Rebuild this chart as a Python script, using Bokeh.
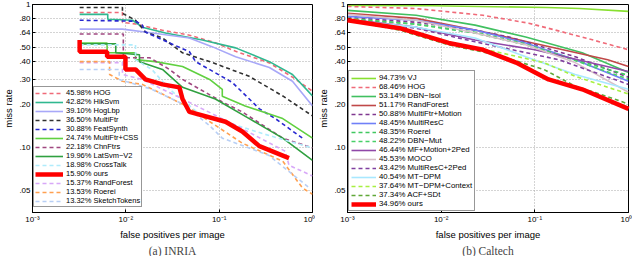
from bokeh.plotting import figure
from bokeh.layouts import row
from bokeh.models import FixedTicker, Legend, LegendItem, Range1d
from bokeh.embed import file_html
from bokeh.resources import INLINE

# ---------------- tick labels ----------------
x_ticks = [0.001, 0.01, 0.1, 1.0]
x_tick_labels = ["10\u207b\u00b3", "10\u207b\u00b2", "10\u207b\u00b9", "10\u2070"]
y_ticks = [0.05, 0.10, 0.20, 0.30, 0.40, 0.50, 0.64, 0.80, 1.0]
y_tick_labels = [".05", ".10", ".20", ".30", ".40", ".50", ".64", ".80", "1"]

# ---------------- INRIA ----------------
inria_labels = ["45.98% HOG", "42.82% HikSvm", "39.10% HogLbp", "36.50% MultiFtr",
                "30.88% FeatSynth", "24.74% MultiFtr+CSS", "22.18% ChnFtrs",
                "19.96% LatSvm\u2212V2", "18.98% CrossTalk", "15.90% ours",
                "15.37% RandForest", "13.53% Roerei", "13.32% SketchTokens"]
inria_colors = ["#f06a78", "#30b890", "#a8a8f8", "#303030", "#2828d0", "#60d040",
                "#a04880", "#30a040", "#b0ecfc", "#ff0000", "#d8a8f8", "#ffa050", "#b8cff5"]
inria_dash = [True, False, False, True, True, False, True, False, True, False, True, True, True]

inria_hog_x = [0.0032, 0.0092, 0.0092, 0.0127, 0.0247, 0.048, 0.091, 0.15, 0.345, 0.61, 1.0]
inria_hog_y = [0.88, 0.88, 0.75, 0.73, 0.66, 0.61, 0.54, 0.47, 0.39, 0.31, 0.247]
inria_hiksvm_x = [0.0032, 0.0064, 0.0064, 0.0118, 0.015, 0.0266, 0.066, 0.15, 0.345, 0.61, 1.0]
inria_hiksvm_y = [0.853, 0.853, 0.788, 0.776, 0.694, 0.631, 0.565, 0.497, 0.398, 0.324, 0.229]
inria_hoglbp_x = [0.0032, 0.0092, 0.0193, 0.048, 0.085, 0.15, 0.345, 0.61, 1.0]
inria_hoglbp_y = [0.672, 0.672, 0.631, 0.583, 0.505, 0.431, 0.362, 0.29, 0.195]
inria_multiftr_x = [0.0032, 0.0092, 0.0092, 0.0127, 0.0162, 0.0247, 0.0405, 0.085, 0.21, 0.48, 1.0]
inria_multiftr_y = [0.953, 0.953, 0.867, 0.776, 0.641, 0.583, 0.459, 0.392, 0.314, 0.229, 0.166]
inria_featsynth_x = [0.0032, 0.0127, 0.015, 0.0162, 0.0294, 0.048, 0.056, 0.138, 0.27, 0.4, 0.78]
inria_featsynth_y = [0.776, 0.764, 0.717, 0.641, 0.538, 0.467, 0.398, 0.285, 0.186, 0.159, 0.116]
inria_css_x = [0.0032, 0.0063, 0.0063, 0.0127, 0.0127, 0.0207, 0.0405, 0.079, 0.108, 0.108, 0.19, 0.48, 1.0]
inria_css_y = [0.538, 0.538, 0.459, 0.459, 0.411, 0.398, 0.368, 0.299, 0.255, 0.228, 0.195, 0.159, 0.116]
inria_chnftrs_x = [0.0032, 0.0094, 0.0094, 0.018, 0.0294, 0.0405, 0.108, 0.177, 0.48, 1.0]
inria_chnftrs_y = [0.621, 0.621, 0.424, 0.424, 0.351, 0.299, 0.208, 0.177, 0.116, 0.099]
inria_latsvm_x = [0.0032, 0.0078, 0.0078, 0.014, 0.014, 0.0247, 0.0405, 0.091, 0.21, 0.48, 1.0]
inria_latsvm_y = [0.53, 0.53, 0.459, 0.445, 0.398, 0.351, 0.263, 0.218, 0.159, 0.116, 0.081]
inria_crosstalk_x = [0.0032, 0.0127, 0.0127, 0.019, 0.0294, 0.061, 0.117, 0.29, 1.0]
inria_crosstalk_y = [0.522, 0.522, 0.411, 0.351, 0.255, 0.172, 0.151, 0.125, 0.099]
inria_ours_x = [0.0032, 0.0032, 0.0063, 0.0063, 0.0099, 0.0099, 0.0127, 0.0162, 0.0247, 0.0375,
                0.0405, 0.048, 0.117, 0.177, 0.27, 0.56]
inria_ours_y = [0.565, 0.467, 0.467, 0.431, 0.431, 0.351, 0.351, 0.299, 0.276, 0.263,
                0.218, 0.177, 0.151, 0.129, 0.102, 0.084]
inria_randforest_x = [0.0032, 0.0092, 0.0092, 0.015, 0.0247, 0.0405, 0.066, 0.177, 0.51, 0.56, 1.0]
inria_randforest_y = [0.392, 0.392, 0.324, 0.299, 0.255, 0.218, 0.186, 0.135, 0.094, 0.075, 0.063]
inria_roerei_x = [0.0032, 0.0067, 0.0067, 0.0092, 0.015, 0.0247, 0.044, 0.085, 0.177, 0.48, 0.78, 1.0]
inria_roerei_y = [0.398, 0.398, 0.324, 0.29, 0.276, 0.236, 0.195, 0.147, 0.107, 0.08, 0.052, 0.047]
inria_sketch_x = [0.0032, 0.0085, 0.0085, 0.019, 0.0405, 0.079, 0.108, 0.34, 0.93]
inria_sketch_y = [0.351, 0.351, 0.299, 0.255, 0.201, 0.142, 0.116, 0.088, 0.052]

inria_xs = [inria_hog_x, inria_hiksvm_x, inria_hoglbp_x, inria_multiftr_x, inria_featsynth_x,
            inria_css_x, inria_chnftrs_x, inria_latsvm_x, inria_crosstalk_x, inria_ours_x,
            inria_randforest_x, inria_roerei_x, inria_sketch_x]
inria_ys = [inria_hog_y, inria_hiksvm_y, inria_hoglbp_y, inria_multiftr_y, inria_featsynth_y,
            inria_css_y, inria_chnftrs_y, inria_latsvm_y, inria_crosstalk_y, inria_ours_y,
            inria_randforest_y, inria_roerei_y, inria_sketch_y]

# ---------------- Caltech ----------------
caltech_labels = ["94.73% VJ", "68.46% HOG", "53.14% DBN\u2212Isol", "51.17% RandForest",
                  "50.88% MultiFtr+Motion", "48.45% MultiResC", "48.35% Roerei",
                  "48.22% DBN\u2212Mut", "46.44% MF+Motion+2Ped", "45.53% MOCO",
                  "43.42% MultiResC+2Ped", "40.54% MT\u2212DPM", "37.64% MT\u2212DPM+Context",
                  "37.34% ACF+SDt", "34.96% ours"]
caltech_colors = ["#88e030", "#f06a78", "#40c060", "#c04848", "#803890", "#7080f8", "#40c860",
                  "#48d068", "#9048a8", "#d8c0c8", "#8040a0", "#a8e8ff", "#a8f040", "#60a838", "#ff0000"]
caltech_dash = [False, True, False, False, True, False, True, True, False, False, True, False, True, True, False]

caltech_vj_x = [0.001, 0.008, 0.134, 0.3, 1.0]
caltech_vj_y = [0.984, 0.98, 0.953, 0.938, 0.895]
caltech_hog_x = [0.001, 0.0053, 0.028, 0.086, 0.32, 1.0]
caltech_hog_y = [0.969, 0.938, 0.84, 0.74, 0.592, 0.482]
caltech_dbnisol_x = [0.001, 0.0054, 0.023, 0.08, 0.32, 1.0]
caltech_dbnisol_y = [0.909, 0.84, 0.717, 0.592, 0.459, 0.334]
caltech_randforest_x = [0.001, 0.0054, 0.023, 0.095, 0.6, 1.0]
caltech_randforest_y = [0.867, 0.8, 0.662, 0.538, 0.411, 0.368]
caltech_mfmotion_x = [0.001, 0.0054, 0.023, 0.053, 0.27, 1.0]
caltech_mfmotion_y = [0.813, 0.751, 0.662, 0.592, 0.431, 0.309]
caltech_multiresc_x = [0.001, 0.0054, 0.023, 0.08, 0.27, 1.0]
caltech_multiresc_y = [0.826, 0.776, 0.662, 0.538, 0.411, 0.29]
caltech_roerei_x = [0.001, 0.0054, 0.023, 0.08, 0.27, 1.0]
caltech_roerei_y = [0.788, 0.728, 0.631, 0.522, 0.411, 0.319]
caltech_dbnmut_x = [0.001, 0.0054, 0.023, 0.08, 0.27, 1.0]
caltech_dbnmut_y = [0.8, 0.728, 0.64, 0.53, 0.405, 0.30]
caltech_mfm2ped_x = [0.001, 0.0054, 0.023, 0.1, 1.0]
caltech_mfm2ped_y = [0.788, 0.694, 0.565, 0.482, 0.34]
caltech_moco_x = [0.001, 0.0054, 0.023, 0.08, 0.27, 1.0]
caltech_moco_y = [0.853, 0.776, 0.631, 0.522, 0.392, 0.243]
caltech_mresc2ped_x = [0.001, 0.0054, 0.023, 0.18, 1.0]
caltech_mresc2ped_y = [0.776, 0.683, 0.548, 0.411, 0.276]
caltech_mtdpm_x = [0.001, 0.0054, 0.023, 0.08, 0.27, 1.0]
caltech_mtdpm_y = [0.776, 0.694, 0.583, 0.431, 0.324, 0.255]
caltech_mtdpmctx_x = [0.001, 0.0036, 0.012, 0.0385, 0.125, 0.27, 1.0]
caltech_mtdpmctx_y = [0.8, 0.683, 0.538, 0.467, 0.392, 0.314, 0.236]
caltech_acfsdt_x = [0.001, 0.0036, 0.012, 0.0385, 0.125, 0.27, 0.57, 1.0]
caltech_acfsdt_y = [0.776, 0.662, 0.522, 0.445, 0.351, 0.268, 0.229, 0.201]
caltech_ours_x = [0.001, 0.0036, 0.012, 0.028, 0.063, 0.14, 0.32, 1.0]
caltech_ours_y = [0.776, 0.683, 0.538, 0.482, 0.392, 0.299, 0.255, 0.186]

caltech_xs = [caltech_vj_x, caltech_hog_x, caltech_dbnisol_x, caltech_randforest_x,
              caltech_mfmotion_x, caltech_multiresc_x, caltech_roerei_x, caltech_dbnmut_x,
              caltech_mfm2ped_x, caltech_moco_x, caltech_mresc2ped_x, caltech_mtdpm_x,
              caltech_mtdpmctx_x, caltech_acfsdt_x, caltech_ours_x]
caltech_ys = [caltech_vj_y, caltech_hog_y, caltech_dbnisol_y, caltech_randforest_y,
              caltech_mfmotion_y, caltech_multiresc_y, caltech_roerei_y, caltech_dbnmut_y,
              caltech_mfm2ped_y, caltech_moco_y, caltech_mresc2ped_y, caltech_mtdpm_y,
              caltech_mtdpmctx_y, caltech_acfsdt_y, caltech_ours_y]

FONT = "Liberation Sans"


def make_panel(caption, xs, ys, labels, colors, dashes, frame_w, frame_h, mbl, mbr,
               legend_loc, legend_font, legend_h, glyph_w, leg_spacing, leg_pad):
    p = figure(x_axis_type="log", y_axis_type="log",
               x_range=Range1d(0.001, 1.0), y_range=Range1d(0.035, 1.0),
               frame_width=frame_w, frame_height=frame_h,
               min_border_left=mbl, min_border_right=mbr, min_border_top=4, min_border_bottom=0,
               output_backend="svg", toolbar_location=None,
               title=caption, title_location="below")
    p.title.align = "center"
    p.title.text_font = "Liberation Serif"
    p.title.text_font_size = "11.5px"
    p.title.text_font_style = "normal"
    p.title.standoff = 0
    p.title.offset = 0

    p.outline_line_color = "black"
    p.outline_line_width = 1
    p.background_fill_color = "white"

    for ax in (p.xaxis[0], p.yaxis[0]):
        ax.axis_line_color = "black"
        ax.major_tick_in = 3
        ax.major_tick_out = 0
        ax.minor_tick_line_color = None
        ax.major_label_text_font = FONT
        ax.major_label_text_font_size = "8px"
        ax.major_label_text_color = "black"
        ax.axis_label_text_font = FONT
        ax.axis_label_text_font_style = "normal"
        ax.axis_label_text_color = "black"
        ax.axis_label_text_font_size = "9.5px"
        ax.major_label_standoff = 2
        ax.axis_label_standoff = 2

    p.xaxis[0].ticker = FixedTicker(ticks=x_ticks)
    p.xaxis[0].major_label_overrides = dict(zip(x_ticks, x_tick_labels))
    p.xaxis[0].axis_label = "false positives per image"
    p.yaxis[0].ticker = FixedTicker(ticks=y_ticks)
    p.yaxis[0].major_label_overrides = dict(zip(y_ticks, y_tick_labels))
    p.yaxis[0].axis_label = "miss rate"

    for g in (p.xgrid[0], p.ygrid[0]):
        g.grid_line_color = "#a8a8a8"
        g.grid_line_dash = "1 2"
        g.grid_line_width = 1
    p.xgrid[0].ticker = FixedTicker(ticks=x_ticks)
    p.ygrid[0].ticker = FixedTicker(ticks=y_ticks)

    items = []
    for x, y, lab, col, d in zip(xs, ys, labels, colors, dashes):
        ours = lab.endswith("ours")
        r = p.line(x, y, line_color=col, line_width=4.5 if ours else 1.6,
                   line_dash="4 3" if d else "solid")
        if ours:
            r.level = "overlay"
        items.append(LegendItem(label=lab, renderers=[r]))

    leg = Legend(items=items, location=legend_loc)
    leg.label_text_font = FONT
    leg.label_text_font_size = legend_font
    leg.label_text_color = "black"
    leg.glyph_width = glyph_w
    leg.glyph_height = legend_h
    leg.label_height = legend_h
    leg.label_standoff = 3
    leg.spacing = leg_spacing
    leg.padding = leg_pad
    leg.margin = 0
    leg.border_line_color = "#303030"
    leg.border_line_width = 1
    leg.background_fill_alpha = 1.0
    p.add_layout(leg)
    return p


p1 = make_panel("(a) INRIA", inria_xs, inria_ys, inria_labels, inria_colors, inria_dash,
                280, 208, 4, 3, (1, 5), "7.5px", 8, 28, -1, 1)
p2 = make_panel("(b) Caltech", caltech_xs, caltech_ys, caltech_labels, caltech_colors, caltech_dash,
                281, 208, 4, 4, (1, 1), "7.8px", 8, 25, -1, 2)

layout = row(p1, p2)
open("out.html", "w").write(file_html(layout, INLINE))
